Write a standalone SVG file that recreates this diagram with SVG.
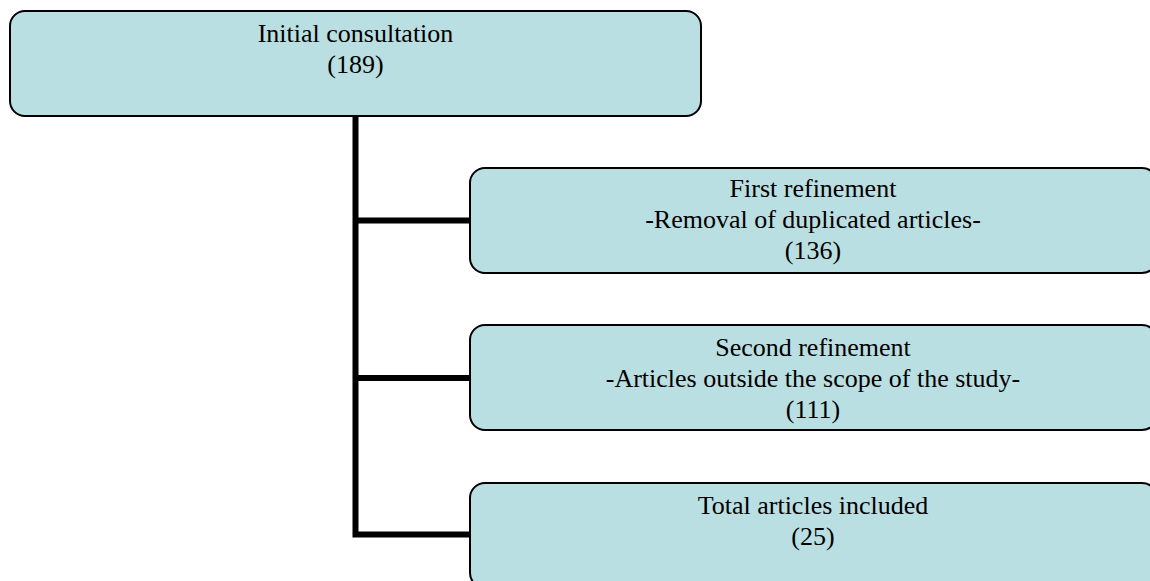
<svg xmlns="http://www.w3.org/2000/svg" width="1150" height="581" viewBox="0 0 1150 581">
<style>
.box{fill:#BADFE2;stroke:#000;stroke-width:2}
.t{font-family:"Liberation Serif","Times New Roman",serif;font-size:26px;fill:#000;text-anchor:middle}
.c{stroke:#000;stroke-width:6;fill:none;stroke-linejoin:miter;stroke-linecap:butt}
</style>
<rect width="1150" height="581" fill="#fff"/>
<g id="connectors">
<path class="c" d="M355.5 116 V534.5 H470"/>
<line class="c" x1="355.5" y1="220.5" x2="470" y2="220.5"/>
<line class="c" x1="355.5" y1="378" x2="470" y2="378"/>
</g>
<g id="n1">
<rect class="box" x="10" y="11" width="691" height="105" rx="15"/>
<text class="t" x="355.5" y="42">Initial consultation</text>
<text class="t" x="355.5" y="73">(189)</text>
</g>
<g id="n2">
<rect class="box" x="470" y="168" width="687" height="105" rx="15"/>
<text class="t" x="813" y="197">First refinement</text>
<text class="t" x="813" y="228">-Removal of duplicated articles-</text>
<text class="t" x="813" y="259">(136)</text>
</g>
<g id="n3">
<rect class="box" x="470" y="325" width="687" height="105" rx="15"/>
<text class="t" x="813" y="356">Second refinement</text>
<text class="t" x="813" y="387">-Articles outside the scope of the study-</text>
<text class="t" x="813" y="418">(111)</text>
</g>
<g id="n4">
<rect class="box" x="470" y="483" width="687" height="105" rx="15"/>
<text class="t" x="813" y="514">Total articles included</text>
<text class="t" x="813" y="545">(25)</text>
</g>
</svg>
